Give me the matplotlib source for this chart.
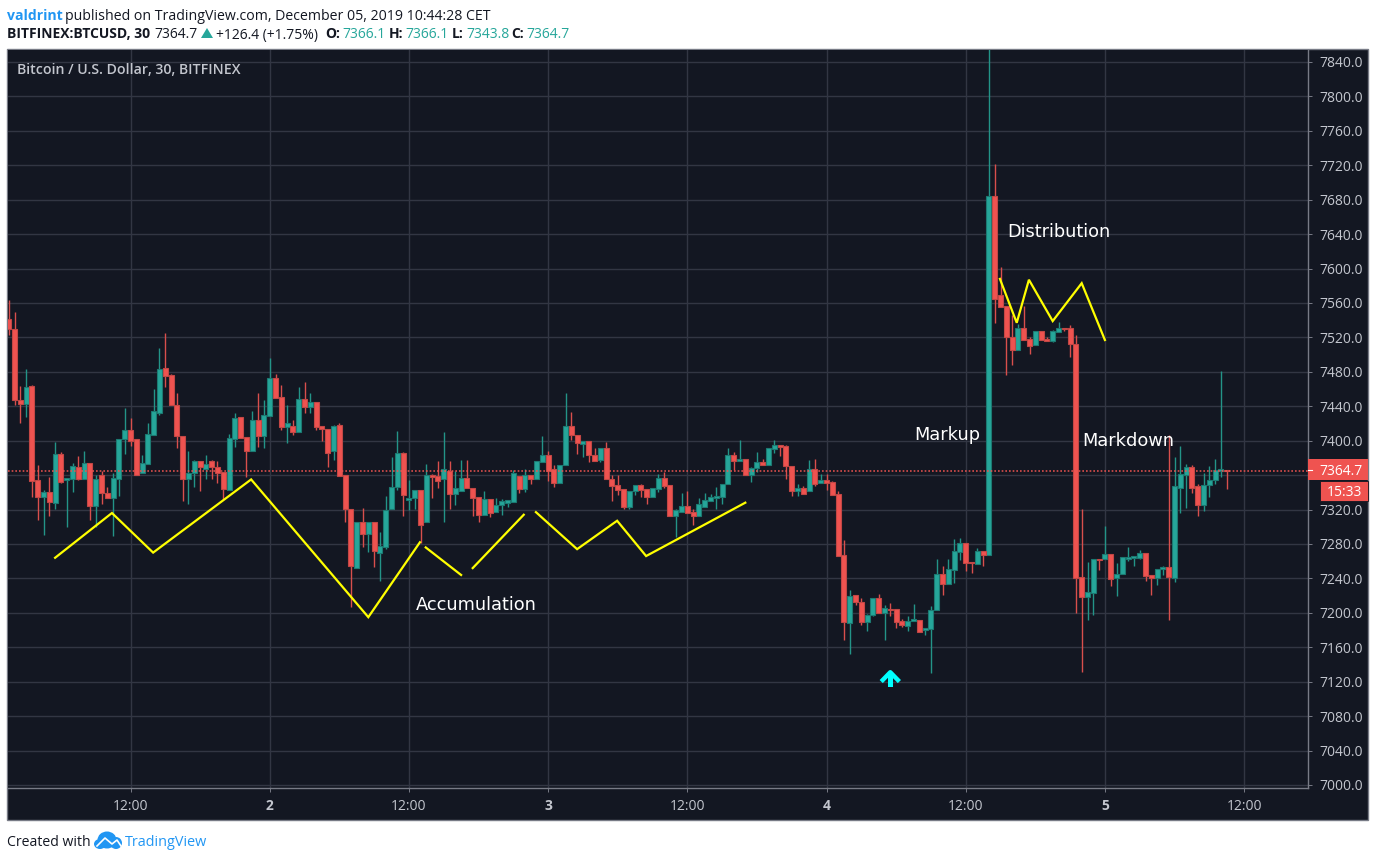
import numpy as np
import matplotlib
matplotlib.use("Agg")
import matplotlib.pyplot as plt
from matplotlib.patches import Rectangle, Polygon, Ellipse

# OHLC values, one candle every 30 minutes
opens = [7541, 7530, 7447, 7443, 7463, 7354, 7335, 7340, 7328, 7385,
         7354, 7356, 7369, 7355, 7374, 7324, 7360, 7339, 7333, 7356,
         7402, 7413, 7402, 7363, 7373, 7407, 7432, 7484, 7476, 7442,
         7405, 7356, 7363, 7376, 7367, 7376, 7370, 7364, 7343, 7402,
         7428, 7404, 7388, 7424, 7405, 7429, 7473, 7451, 7416, 7417,
         7410, 7448, 7439, 7445, 7417, 7414, 7388, 7418, 7360, 7321,
         7252, 7306, 7292, 7305, 7270, 7276, 7321, 7346, 7386, 7331,
         7334, 7343, 7305, 7360, 7359, 7356, 7365, 7338, 7342, 7357,
         7345, 7335, 7314, 7332, 7317, 7325, 7328, 7329, 7359, 7344,
         7360, 7356, 7375, 7383, 7367, 7351, 7372, 7417, 7407, 7396,
         7400, 7383, 7378, 7392, 7356, 7348, 7344, 7323, 7341, 7348,
         7344, 7335, 7344, 7357, 7348, 7313, 7317, 7324, 7317, 7313,
         7323, 7330, 7334, 7335, 7350, 7383, 7376, 7379, 7360, 7368,
         7375, 7372, 7390, 7395, 7394, 7371, 7341, 7345, 7341, 7367,
         7351, 7354, 7352, 7338, 7267, 7188, 7221, 7213, 7189, 7197,
         7217, 7200, 7204, 7204, 7190, 7185, 7190, 7192, 7180, 7181,
         7203, 7245, 7234, 7250, 7271, 7281, 7259, 7257, 7272, 7267,
         7684, 7569, 7556, 7520, 7505, 7531, 7518, 7511, 7527, 7518,
         7516, 7526, 7531, 7531, 7512, 7242, 7218, 7223, 7262, 7262,
         7268, 7240, 7245, 7263, 7264, 7264, 7269, 7244, 7241, 7251,
         7253, 7241, 7345, 7360, 7370, 7347, 7325, 7348, 7354, 7365,
         7366]
highs = [7563, 7549, 7463, 7483, 7465, 7372, 7343, 7358, 7398, 7387,
         7357, 7374, 7382, 7388, 7374, 7360, 7365, 7346, 7362, 7402,
         7438, 7426, 7402, 7383, 7420, 7460, 7508, 7525, 7478, 7455,
         7405, 7388, 7378, 7377, 7383, 7378, 7377, 7364, 7408, 7432,
         7428, 7404, 7434, 7455, 7447, 7496, 7477, 7465, 7442, 7424,
         7462, 7468, 7455, 7445, 7417, 7414, 7418, 7420, 7360, 7321,
         7306, 7322, 7305, 7305, 7294, 7336, 7381, 7411, 7387, 7354,
         7343, 7343, 7373, 7361, 7376, 7410, 7377, 7365, 7378, 7378,
         7345, 7335, 7342, 7332, 7333, 7332, 7331, 7366, 7359, 7367,
         7360, 7377, 7406, 7388, 7372, 7372, 7455, 7433, 7407, 7400,
         7400, 7391, 7392, 7398, 7360, 7360, 7344, 7341, 7348, 7350,
         7344, 7345, 7361, 7364, 7348, 7321, 7339, 7342, 7321, 7333,
         7339, 7338, 7346, 7350, 7391, 7387, 7401, 7379, 7370, 7387,
         7379, 7391, 7401, 7395, 7395, 7371, 7350, 7347, 7378, 7379,
         7361, 7361, 7353, 7342, 7285, 7227, 7221, 7217, 7199, 7217,
         7222, 7209, 7212, 7204, 7193, 7196, 7210, 7192, 7182, 7208,
         7262, 7254, 7262, 7286, 7287, 7281, 7259, 7275, 7272, 7880,
         7721, 7602, 7556, 7546, 7536, 7556, 7521, 7527, 7527, 7520,
         7529, 7538, 7531, 7534, 7523, 7321, 7259, 7263, 7263, 7301,
         7268, 7258, 7265, 7277, 7266, 7273, 7270, 7244, 7251, 7254,
         7407, 7381, 7394, 7373, 7372, 7350, 7362, 7371, 7379, 7481,
         7366]
lows = [7523, 7441, 7420, 7427, 7335, 7308, 7290, 7312, 7321, 7351,
        7300, 7340, 7354, 7355, 7308, 7300, 7327, 7333, 7289, 7336,
        7384, 7394, 7360, 7363, 7373, 7407, 7430, 7462, 7441, 7391,
        7330, 7326, 7346, 7342, 7356, 7355, 7351, 7331, 7343, 7393,
        7403, 7358, 7388, 7393, 7392, 7429, 7450, 7413, 7397, 7407,
        7410, 7432, 7432, 7412, 7400, 7370, 7378, 7359, 7305, 7207,
        7252, 7276, 7271, 7253, 7237, 7274, 7321, 7343, 7312, 7319,
        7321, 7281, 7305, 7334, 7345, 7305, 7321, 7325, 7342, 7345,
        7312, 7306, 7314, 7311, 7317, 7314, 7323, 7329, 7339, 7340,
        7350, 7356, 7375, 7353, 7346, 7351, 7372, 7401, 7385, 7381,
        7375, 7377, 7375, 7356, 7330, 7337, 7321, 7321, 7337, 7335,
        7327, 7335, 7340, 7345, 7313, 7288, 7317, 7316, 7302, 7313,
        7323, 7330, 7321, 7327, 7350, 7366, 7376, 7360, 7352, 7364,
        7372, 7372, 7386, 7382, 7356, 7336, 7336, 7338, 7341, 7347,
        7351, 7343, 7337, 7266, 7168, 7152, 7209, 7186, 7179, 7196,
        7200, 7168, 7196, 7182, 7183, 7179, 7190, 7178, 7174, 7130,
        7203, 7221, 7234, 7235, 7261, 7249, 7246, 7257, 7255, 7267,
        7537, 7555, 7476, 7488, 7505, 7517, 7501, 7511, 7517, 7516,
        7515, 7526, 7528, 7497, 7200, 7131, 7192, 7198, 7250, 7262,
        7231, 7219, 7245, 7260, 7254, 7263, 7237, 7221, 7232, 7244,
        7192, 7236, 7316, 7322, 7339, 7313, 7318, 7335, 7350, 7358,
        7344]
closes = [7530, 7447, 7443, 7462, 7353, 7335, 7340, 7329, 7385, 7352,
          7357, 7371, 7355, 7374, 7324, 7355, 7339, 7333, 7357, 7402,
          7413, 7400, 7360, 7374, 7408, 7434, 7483, 7475, 7441, 7405,
          7356, 7363, 7376, 7370, 7373, 7369, 7363, 7344, 7403, 7426,
          7403, 7388, 7424, 7406, 7430, 7473, 7450, 7416, 7421, 7410,
          7448, 7439, 7445, 7416, 7414, 7386, 7417, 7359, 7321, 7254,
          7306, 7292, 7305, 7272, 7278, 7319, 7346, 7386, 7337, 7334,
          7343, 7302, 7360, 7358, 7353, 7367, 7338, 7345, 7357, 7345,
          7334, 7314, 7332, 7316, 7325, 7330, 7331, 7362, 7344, 7360,
          7356, 7377, 7383, 7365, 7351, 7372, 7417, 7407, 7397, 7400,
          7383, 7377, 7392, 7356, 7347, 7343, 7323, 7341, 7348, 7343,
          7335, 7345, 7357, 7347, 7313, 7319, 7324, 7316, 7313, 7327,
          7331, 7335, 7336, 7350, 7383, 7376, 7379, 7360, 7368, 7375,
          7372, 7391, 7395, 7393, 7371, 7342, 7345, 7338, 7367, 7350,
          7354, 7351, 7337, 7266, 7189, 7219, 7213, 7189, 7197, 7217,
          7200, 7206, 7203, 7189, 7186, 7191, 7193, 7178, 7182, 7203,
          7245, 7234, 7251, 7272, 7281, 7258, 7258, 7272, 7267, 7684,
          7565, 7555, 7520, 7505, 7531, 7517, 7510, 7527, 7517, 7516,
          7527, 7531, 7530, 7512, 7241, 7218, 7224, 7262, 7261, 7268,
          7239, 7245, 7265, 7265, 7266, 7269, 7243, 7241, 7251, 7253,
          7242, 7347, 7361, 7370, 7345, 7325, 7349, 7354, 7366, 7367,
          7364.7]

# axis ticks
time_positions = [21, 45, 69, 93, 117, 141, 165, 189, 213]
time_labels = ["12:00", "2", "12:00", "3", "12:00", "4", "12:00", "5", "12:00"]
price_ticks = list(range(7000, 7880, 40))
last_price = 7364.7

# hand drawn yellow lines on the chart (candle number, price)
drawn_lines = [
    ([8.0, 17.8, 24.9, 41.8, 62.0, 70.9], [7264, 7316, 7270, 7355, 7195, 7282]),
    ([71.9, 78.0], [7276, 7244]),
    ([80.0, 88.8], [7252, 7314]),
    ([90.9, 98.0, 104.9, 109.9, 127.0], [7317, 7274, 7307, 7266, 7328]),
    ([170.9, 173.8, 175.9, 180.0, 185.0, 189.0], [7588, 7537, 7587, 7539, 7583, 7517]),
]
notes = [("Accumulation", 80.6, 7209), ("Markup", 161.8, 7407),
         ("Distribution", 181.0, 7642), ("Markdown", 193.0, 7400)]

W, H = 1375, 861
BG = "#131722"
GRID = "#323643"
BORDER = "#787b86"
UP = "#26a69a"
DOWN = "#ef5350"
AXTXT = "#c3c6ce"
BLUE = "#2196f3"
FONT = "Open Sans"

fig = plt.figure(figsize=(W / 100, H / 100), dpi=100, facecolor="white")
frame = Rectangle((7 / W, 1 - 819.5 / H), 1361 / W, 770.5 / H, transform=fig.transFigure,
                  facecolor=BG, edgecolor=BORDER, linewidth=1, zorder=-1)
fig.add_artist(frame)

# main pane, candle i sits at pixel 8.7 + 5.8 i
px_left, px_right, px_top, px_bottom = 8, 1308, 49.5, 788
ax = fig.add_axes([px_left / W, 1 - px_bottom / H, (px_right - px_left) / W, (px_bottom - px_top) / H])
ax.set_facecolor(BG)
ax.set_xlim((px_left - 8.7) / 5.8, (px_right - 8.7) / 5.8)
ax.set_ylim(7000 + (785 - px_bottom) * 1.1618, 7000 + (785 - px_top) * 1.1618)

o = np.array(opens)
h = np.array(highs)
l = np.array(lows)
c = np.array(closes)
x = np.arange(len(o))
up = c >= o

ax.vlines(x[up], l[up], h[up], color="#239488", linewidth=1.0, zorder=3)
ax.vlines(x[~up], l[~up], h[~up], color="#d94f4c", linewidth=1.0, zorder=3)
ax.bar(x[up], (c - o)[up], bottom=o[up], width=0.86, color=UP, edgecolor="#1c7a72", linewidth=0.8, zorder=4)
ax.bar(x[~up], (o - c)[~up], bottom=c[~up], width=0.86, color=DOWN, edgecolor="#c24745", linewidth=0.8, zorder=4)

ax.axhline(last_price, color=DOWN, linewidth=1.2, linestyle=(0, (1, 1.2)), alpha=0.9, zorder=5)

for xs, ys in drawn_lines:
    ax.plot(xs, ys, color="#ffff00", linewidth=1.6, solid_joinstyle="miter", zorder=6)
for text, nx, ny in notes:
    ax.text(nx, ny, text, color="white", fontsize=12.8, ha="center", va="center",
            family="DejaVu Sans", zorder=7)

# cyan arrow
ax.plot([150.7, 152, 153.3], [7122, 7131, 7122], color="#00ffff", linewidth=3.2, zorder=7)
ax.plot([152, 152], [7129, 7117], color="#00ffff", linewidth=3.6, zorder=7)

ax.set_xticks(time_positions)
ax.set_xticklabels(time_labels, family=FONT, fontsize=10, color=AXTXT)
for lab, name in zip(ax.get_xticklabels(), time_labels):
    if ":" not in name:
        lab.set_fontweight("bold")
ax.set_yticks(price_ticks)
# the 7360 label sits behind the last price box
ax.set_yticklabels(["" if p == 7360 else "%.1f" % p for p in price_ticks], family=FONT, fontsize=10, color=AXTXT)
ax.yaxis.tick_right()
ax.tick_params(axis="x", length=3, width=0.7, color=BORDER, pad=5)
ax.tick_params(axis="y", length=3, width=0.7, color=BORDER, pad=5)
ax.grid(True, color=GRID, linewidth=1, zorder=0)
ax.set_axisbelow(True)
for side in ["top", "left"]:
    ax.spines[side].set_visible(False)
for side in ["right", "bottom"]:
    ax.spines[side].set_color(BORDER)
    ax.spines[side].set_linewidth(1)

# overlay in plain pixels for header, footer and the price labels
page = fig.add_axes([0, 0, 1, 1], facecolor="none")
page.set_xlim(0, W)
page.set_ylim(H, 0)
page.axis("off")

page.add_patch(Rectangle((1308, 459), 60, 21, facecolor=DOWN, edgecolor="none"))
page.plot([1308, 1312], [469.5, 469.5], color="white", linewidth=0.8)
page.text(1319, 469.5, "7364.7", color="white", fontsize=10, family=FONT, va="center_baseline")
page.add_patch(Rectangle((1320, 481), 48, 20, facecolor=DOWN, edgecolor="#131722", linewidth=0.6))
page.text(1344, 491, "15:33", color="white", fontsize=10, family=FONT, ha="center", va="center_baseline")

page.text(17, 68, "Bitcoin / U.S. Dollar, 30, BITFINEX", color="#c3c6ce", fontsize=10.2, family=FONT,
          fontweight="semibold", va="center_baseline")

page.text(7, 14, "valdrint", color=BLUE, fontsize=10.1, family=FONT, fontweight="bold", va="center_baseline")
page.text(65, 14, "published on TradingView.com, December 05, 2019 10:44:28 CET", color="#131722",
          fontsize=10.15, family=FONT, va="center_baseline")

header = [(7, "BITFINEX:BTCUSD, 30", "#131722", "bold"), (154, "7364.7", "#131722", "normal"),
          (216, "+126.4 (+1.75%)", "#131722", "normal"), (325, "O:", "#131722", "bold"),
          (342, "7366.1", UP, "normal"), (389, "H:", "#131722", "bold"), (405, "7366.1", UP, "normal"),
          (452, "L:", "#131722", "bold"), (466, "7343.8", UP, "normal"), (511, "C:", "#131722", "bold"),
          (526, "7364.7", UP, "normal")]
for hx, text, col, weight in header:
    page.text(hx, 33, text, color=col, fontsize=10, family=FONT, fontweight=weight, va="center_baseline")
page.add_patch(Polygon([(201, 38), (213, 38), (207, 28)], facecolor=UP, edgecolor="none"))

page.text(7, 841, "Created with", color="#131722", fontsize=10.1, family=FONT, va="center_baseline")
page.text(125, 841, "TradingView", color=BLUE, fontsize=10.4, family=FONT, va="center_baseline")

# cloud logo
page.add_patch(Ellipse((107, 840), 19, 17, facecolor=BLUE, edgecolor="none"))
page.add_patch(Ellipse((100, 844), 12, 10, facecolor=BLUE, edgecolor="none"))
page.add_patch(Ellipse((116, 843), 12, 12, facecolor=BLUE, edgecolor="none"))
page.plot([97, 105, 112, 117, 121], [846, 838, 844, 840, 846], color="white", linewidth=1.2)

fig.savefig("out.png", dpi=100, facecolor="white")
